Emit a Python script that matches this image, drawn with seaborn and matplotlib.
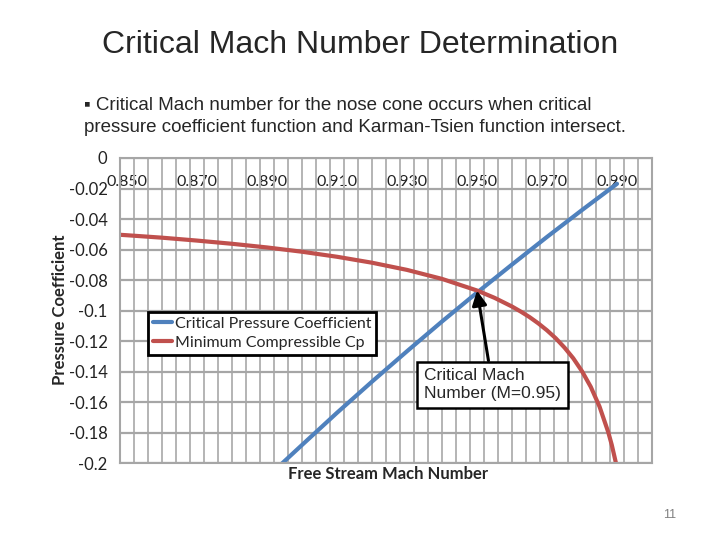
import numpy as np
import seaborn as sns
import matplotlib.pyplot as plt

# values
mach_crit = [0.89, 0.895, 0.90, 0.91, 0.92, 0.93, 0.94, 0.95, 0.96, 0.97, 0.98, 0.99]
cp_crit = [-0.2094, -0.1986, -0.1880, -0.1669, -0.1465, -0.1266, -0.1071, -0.0882,
           -0.0698, -0.0517, -0.0341, -0.0169]

mach_kt = [0.848, 0.85, 0.86, 0.87, 0.88, 0.89, 0.90, 0.91, 0.92, 0.93, 0.94, 0.95,
           0.955, 0.96, 0.9625, 0.965, 0.9675, 0.97, 0.9725, 0.975, 0.9775, 0.98,
           0.9825, 0.985, 0.9875, 0.9885, 0.99]
cp_kt = [-0.0503, -0.0506, -0.0522, -0.0541, -0.0562, -0.0586, -0.0614, -0.0647,
         -0.0686, -0.0733, -0.0792, -0.0868, -0.0916, -0.0973, -0.1006, -0.1042,
         -0.1083, -0.1129, -0.1181, -0.1242, -0.1312, -0.1397, -0.1499, -0.1628,
         -0.1796, -0.1879, -0.2028]

x_labels = ["0.850", "0.870", "0.890", "0.910", "0.930", "0.950", "0.970", "0.990"]
x_label_pos = [0.85, 0.87, 0.89, 0.91, 0.93, 0.95, 0.97, 0.99]
y_ticks = [0, -0.02, -0.04, -0.06, -0.08, -0.1, -0.12, -0.14, -0.16, -0.18, -0.2]
y_labels = ["0", "-0.02", "-0.04", "-0.06", "-0.08", "-0.1", "-0.12", "-0.14", "-0.16", "-0.18", "-0.2"]

sns.set_style("white")
plt.rcParams['font.family'] = ['Lato', 'DejaVu Sans']

blue = "#4F81BD"
red = "#C0504D"
grid = "#a6a6a6"
arial = ["Liberation Sans", "DejaVu Sans"]

fig = plt.figure(figsize=(7.2, 5.4), dpi=100)
ax = fig.add_axes([120/720, 1-463.3/540, 532/720, 305.3/540])

sns.lineplot(x=mach_crit, y=cp_crit, color=blue, lw=3, ax=ax, label="Critical Pressure Coefficient")
sns.lineplot(x=mach_kt, y=cp_kt, color=red, lw=3, ax=ax, label="Minimum Compressible Cp")

ax.set_xlim(0.848, 1.0)
ax.set_ylim(-0.2, 0)

# vertical grid every 0.004, horizontal every 0.02
ax.set_xticks(np.arange(0.848, 1.0001, 0.004), minor=True)
ax.set_xticks(x_label_pos)
ax.set_xticklabels(x_labels)
ax.set_yticks(y_ticks)
ax.set_yticklabels(y_labels)
ax.grid(True, which="minor", axis="x", color="#b4b4b4", lw=1.4)
ax.grid(True, which="major", axis="y", color=grid, lw=1.6)
ax.grid(False, which="major", axis="x")
ax.xaxis.tick_top()
ax.tick_params(axis="x", which="both", length=0, pad=-22, labelsize=11.5, labelcolor="#222222")
ax.tick_params(axis="y", length=0, pad=9, labelsize=12, labelcolor="#222222")
for s in ax.spines.values():
    s.set_color(grid)
    s.set_linewidth(1.5)
ax.set_axisbelow(True)

ax.set_xlabel("")
ax.set_ylabel("")
fig.text(388/720, 1-474/540, "Free Stream Mach Number", ha="center", va="center",
         fontsize=12, fontweight="bold")
fig.text(60/720, 1-310/540, "Pressure Coefficient", ha="center", va="center",
         rotation=90, fontsize=12, fontweight="bold")

leg = ax.legend(loc="upper left", bbox_to_anchor=(28/532, (463.3-312)/305.3),
                fontsize=11.5, frameon=True, fancybox=False, framealpha=1,
                edgecolor="black", handlelength=1.2, handletextpad=0.2,
                borderpad=0.3, labelspacing=0.3, borderaxespad=0)
leg.get_frame().set_linewidth(2)

ax.annotate("Critical Mach\nNumber (M=0.95)", xy=(0.95, -0.0868), xytext=(0.9544, -0.1485),
            ha="center", va="center", multialignment="left", fontsize=12.5, family=arial,
            bbox=dict(boxstyle="square,pad=0.4", fc="white", ec="black", lw=1.8),
            arrowprops=dict(arrowstyle="-|>,head_width=0.35,head_length=0.7", color="black", lw=2.2,
                            shrinkA=0, shrinkB=0))

fig.text(0.5, 1-45/540, "Critical Mach Number Determination", ha="center", va="center",
         fontsize=23, family=arial)
fig.text(84/720, 1-105/540, "\u25aa Critical Mach number for the nose cone occurs when critical",
         ha="left", va="center", fontsize=13.5, family=arial)
fig.text(84/720, 1-127/540, "pressure coefficient function and Karman-Tsien function intersect.",
         ha="left", va="center", fontsize=13.5, family=arial)
fig.text(670/720, 1-515/540, "11", ha="center", va="center", fontsize=9, color="#808080",
         family=arial)

fig.savefig("out.png", dpi=100)
